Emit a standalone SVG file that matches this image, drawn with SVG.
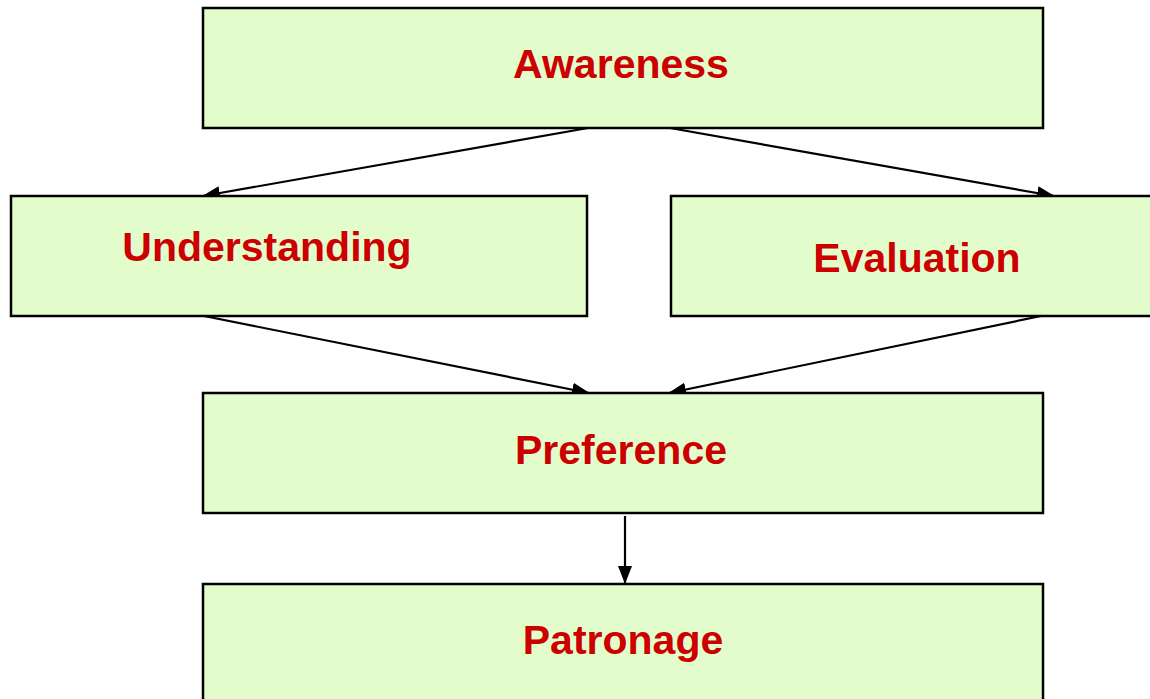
<svg xmlns="http://www.w3.org/2000/svg" width="1150" height="699" viewBox="0 0 1150 699">
<style>
.box{fill:#E2FDCB;stroke:#000;stroke-width:2.5}
.lbl{font-family:"Liberation Sans",Arial,sans-serif;font-weight:bold;font-size:41px;fill:#CC0000;text-anchor:middle}
.con{stroke:#000;stroke-width:2.2;fill:none;marker-end:url(#ah)}
</style>
<defs>
<marker id="ah" viewBox="0 0 18 14" refX="17" refY="7" markerWidth="18" markerHeight="14" markerUnits="userSpaceOnUse" orient="auto">
<path d="M0,0 L18,7 L0,14 Z" fill="#000"/>
</marker>
</defs>
<rect width="1150" height="699" fill="#fff"/>
<g id="connectors">
<line class="con" x1="588" y1="128" x2="203" y2="196"/>
<line class="con" x1="670" y1="128" x2="1054" y2="196"/>
<line class="con" x1="204" y1="316" x2="589" y2="393"/>
<line class="con" x1="1041" y1="316" x2="669" y2="393"/>
<line class="con" x1="625" y1="516" x2="625" y2="583"/>
</g>
<g id="awareness">
<rect class="box" x="203" y="8" width="840" height="120"/>
<text class="lbl" x="621" y="78">Awareness</text>
</g>
<g id="understanding">
<rect class="box" x="11" y="196" width="576" height="120"/>
<text class="lbl" x="267" y="261">Understanding</text>
</g>
<g id="evaluation">
<rect class="box" x="671" y="196" width="484" height="120"/>
<text class="lbl" x="917" y="272">Evaluation</text>
</g>
<g id="preference">
<rect class="box" x="203" y="393" width="840" height="120"/>
<text class="lbl" x="621" y="464">Preference</text>
</g>
<g id="patronage">
<rect class="box" x="203" y="584" width="840" height="125"/>
<text class="lbl" x="623" y="654">Patronage</text>
</g>
</svg>
